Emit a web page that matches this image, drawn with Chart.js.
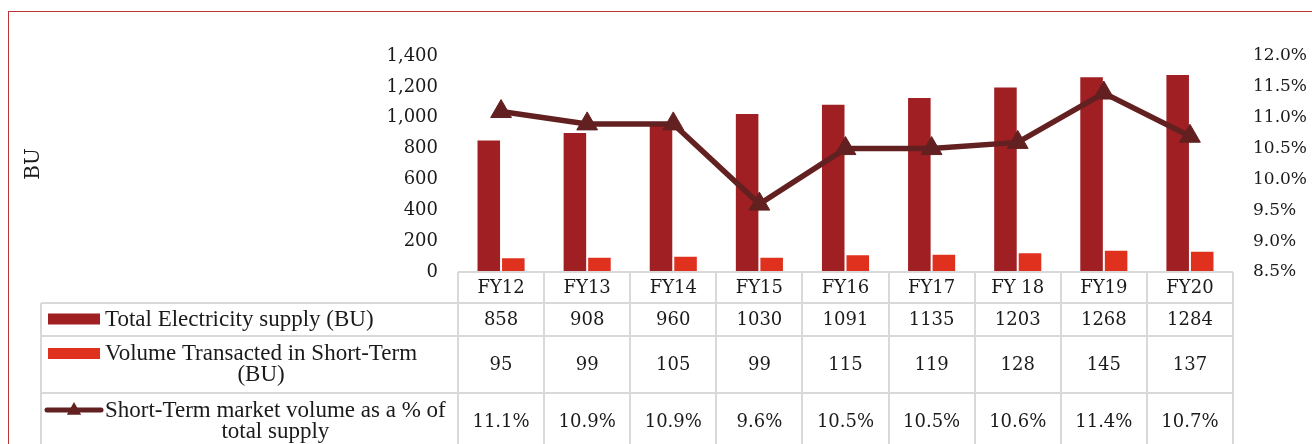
<!DOCTYPE html>
<html>
<head>
<meta charset="utf-8">
<script src="https://cdn.jsdelivr.net/npm/chart.js@4/dist/chart.umd.min.js"></script>
<style>
  html, body { margin: 0; padding: 0; background: #fff; }
  #wrap { position: relative; width: 1312px; height: 444px; overflow: hidden; }
  #frame { position: absolute; left: 8px; top: 11px; width: 1400px; height: 500px; border-top: 1px solid #b8353a; border-left: 1px solid #b8353a; }
  #chartSupply { position: absolute; left: 0; top: 0; }
</style>
</head>
<body>
<div id="wrap">
  <div id="frame"></div>
  <canvas id="chartSupply" width="1312" height="444"></canvas>
</div>
<script>
const fiscalYears = ['FY12', 'FY13', 'FY14', 'FY15', 'FY16', 'FY17', 'FY 18', 'FY19', 'FY20']
const totalSupply = [858, 908, 960, 1030, 1091, 1135, 1203, 1268, 1284]
const shortTermVolume = [95, 99, 105, 99, 115, 119, 128, 145, 137]
const shortTermShare = [11.1, 10.9, 10.9, 9.6, 10.5, 10.5, 10.6, 11.4, 10.7]

const seriesNames = [
    ['Total Electricity supply (BU)'],
    ['Volume Transacted in Short-Term', '(BU)'],
    ['Short-Term market volume as a % of', 'total supply']
]

const DARK_RED = '#a01f22'
const LIGHT_RED = '#e0301e'
const LINE_BROWN = '#632020'
const GRID_GREY = '#d9d9d9'
const NUM_FONT = '18px "DejaVu Serif"'
const TEXT_FONT = '23px "Liberation Serif"'

// rows of the data table under the plot: header, then one row per series
const rowHeights = [31, 33, 57, 57]
const legendLeft = 41

const drawTriangle = (ctx, cx, cy, r) => {
    ctx.beginPath()
    ctx.moveTo(cx, cy - r)
    ctx.lineTo(cx + r * 0.9, cy + r * 0.6)
    ctx.lineTo(cx - r * 0.9, cy + r * 0.6)
    ctx.closePath()
    ctx.fill()
}

const dataTable = {
    id: 'dataTable',
    afterDraw(chart) {
        const { ctx, scales: { x } } = chart
        const n = fiscalYears.length
        const colW = (x.right - x.left) / n
        const top = chart.chartArea.bottom

        const rowTops = [top]
        rowHeights.forEach(h => rowTops.push(rowTops[rowTops.length - 1] + h))
        const bottom = rowTops[rowTops.length - 1]

        ctx.save()
        ctx.strokeStyle = GRID_GREY
        ctx.lineWidth = 2

        // horizontal rules
        ctx.beginPath()
        ctx.moveTo(x.left, top)
        ctx.lineTo(x.right, top)
        for (let r = 1; r < rowTops.length - 1; r++) {
            ctx.moveTo(legendLeft, rowTops[r])
            ctx.lineTo(x.right, rowTops[r])
        }
        // vertical rules
        for (let i = 0; i <= n; i++) {
            const cx = Math.round(x.left + i * colW)
            ctx.moveTo(cx, top)
            ctx.lineTo(cx, bottom)
        }
        ctx.moveTo(legendLeft, rowTops[1])
        ctx.lineTo(legendLeft, bottom)
        ctx.stroke()

        // header and values
        ctx.fillStyle = '#1a1a1a'
        ctx.font = NUM_FONT
        ctx.textAlign = 'center'
        ctx.textBaseline = 'middle'
        const rowValues = [
            totalSupply.map(v => String(v)),
            shortTermVolume.map(v => String(v)),
            shortTermShare.map(v => v.toFixed(1) + '%')
        ]
        fiscalYears.forEach((label, i) => {
            const cx = x.getPixelForValue(i)
            ctx.fillText(label, cx, rowTops[0] + rowHeights[0] / 2 + 1)
            rowValues.forEach((vals, r) => {
                ctx.fillText(vals[i], cx, rowTops[r + 1] + rowHeights[r + 1] / 2 + 1)
            })
        })

        // series names with their keys
        ctx.font = TEXT_FONT
        const textLeft = 105
        const lineGap = 21
        seriesNames.forEach((lines, r) => {
            const rTop = rowTops[r + 1]
            const rH = rowHeights[r + 1]
            const firstY = rTop + rH / 2 - (lines.length - 1) * lineGap / 2
            const firstW = ctx.measureText(lines[0]).width
            const mid = textLeft + firstW / 2
            ctx.textAlign = 'center'
            ctx.fillStyle = '#1a1a1a'
            lines.forEach((t, k) => ctx.fillText(t, mid, firstY + k * lineGap))

            const ky = firstY - 1
            if (r < 2) {
                ctx.fillStyle = r === 0 ? DARK_RED : LIGHT_RED
                ctx.fillRect(48, ky - 5, 52, 11)
            } else {
                ctx.strokeStyle = LINE_BROWN
                ctx.lineWidth = 5
                ctx.lineCap = 'round'
                ctx.beginPath()
                ctx.moveTo(47, ky)
                ctx.lineTo(101, ky)
                ctx.stroke()
                ctx.fillStyle = LINE_BROWN
                drawTriangle(ctx, 74, ky, 8)
            }
        })
        ctx.restore()
    }
}

const canvas = document.getElementById('chartSupply')
const context = canvas.getContext('2d')

const chartSupply = new Chart(context, {
    type: 'bar',
    data: {
        labels: fiscalYears,
        datasets: [
            {
                type: 'line',
                label: seriesNames[2].join(' '),
                data: shortTermShare,
                yAxisID: 'y1',
                order: 0,
                borderColor: LINE_BROWN,
                backgroundColor: LINE_BROWN,
                borderWidth: 5.5,
                tension: 0,
                pointStyle: 'triangle',
                pointRadius: 12,
                pointBorderWidth: 1,
                pointBackgroundColor: LINE_BROWN,
                pointBorderColor: LINE_BROWN
            },
            {
                label: seriesNames[0].join(' '),
                data: totalSupply,
                yAxisID: 'y',
                order: 1,
                backgroundColor: DARK_RED,
                borderColor: 'rgba(255,255,255,0.45)',
                borderWidth: 1,
                barPercentage: 1,
                categoryPercentage: 0.57
            },
            {
                label: seriesNames[1].join(' '),
                data: shortTermVolume,
                yAxisID: 'y',
                order: 2,
                backgroundColor: LIGHT_RED,
                borderColor: 'rgba(255,255,255,0.45)',
                borderWidth: 1,
                barPercentage: 1,
                categoryPercentage: 0.57
            }
        ]
    },
    options: {
        responsive: false,
        animation: false,
        layout: {
            padding: { top: 56, bottom: 172, left: 0, right: 0 }
        },
        plugins: {
            legend: { display: false },
            tooltip: { enabled: false }
        },
        scales: {
            x: {
                display: false,
                offset: true
            },
            y: {
                position: 'left',
                min: 0,
                max: 1400,
                ticks: {
                    stepSize: 200,
                    padding: 20,
                    color: '#1a1a1a',
                    font: { family: 'DejaVu Serif', size: 18 },
                    callback: v => v.toLocaleString('en-US')
                },
                grid: { display: false, drawTicks: false },
                border: { display: false },
                title: {
                    display: true,
                    text: 'BU',
                    color: '#1a1a1a',
                    font: { family: 'DejaVu Serif', size: 20 },
                    padding: { top: 22, bottom: 0 }
                },
                afterFit: scale => { scale.width = 458 }
            },
            y1: {
                position: 'right',
                min: 8.5,
                max: 12,
                ticks: {
                    stepSize: 0.5,
                    padding: 20,
                    color: '#1a1a1a',
                    font: { family: 'DejaVu Serif', size: 17 },
                    callback: v => v.toFixed(1) + '%'
                },
                grid: { display: false, drawTicks: false },
                border: { display: false },
                afterFit: scale => { scale.width = 79 }
            }
        }
    },
    plugins: [dataTable]
})
</script>
</body>
</html>
